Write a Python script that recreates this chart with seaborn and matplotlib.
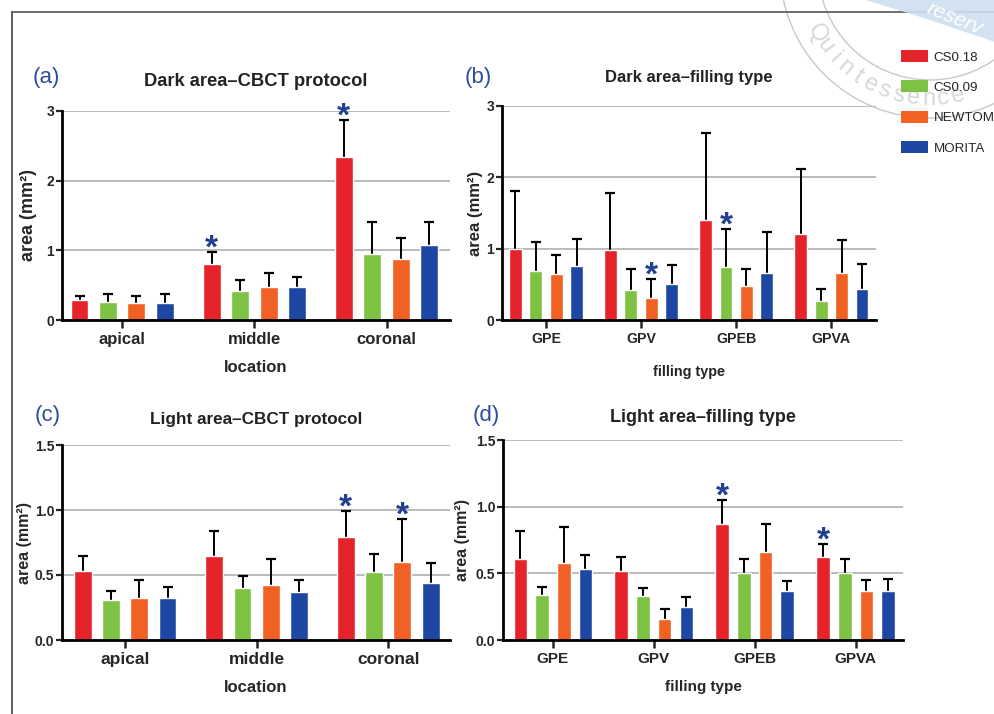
import matplotlib
matplotlib.use("Agg")
import numpy as np
import matplotlib.pyplot as plt
import seaborn as sns
import pandas as pd
from matplotlib.patches import Patch, Ellipse, Polygon
from matplotlib.lines import Line2D

# ---------------- data ----------------
series = ["CS0.18", "CS0.09", "NEWTOM", "MORITA"]
series_colors = ["#E4232B", "#7DC243", "#F16124", "#1E47A3"]
locations = ["apical", "middle", "coronal"]
fillings = ["GPE", "GPV", "GPEB", "GPVA"]

# rows = series (CS0.18, CS0.09, NEWTOM, MORITA), cols = categories
dark_loc_mean = [[0.28, 0.80, 2.34], [0.26, 0.42, 0.95], [0.25, 0.48, 0.87], [0.24, 0.48, 1.08]]
dark_loc_sd = [[0.06, 0.18, 0.53], [0.11, 0.15, 0.45], [0.10, 0.20, 0.30], [0.13, 0.14, 0.32]]
dark_loc_stars = [(0, 1), (0, 2)]

dark_fill_mean = [[1.00, 0.98, 1.40, 1.21], [0.69, 0.42, 0.75, 0.27],
                  [0.64, 0.31, 0.48, 0.66], [0.76, 0.50, 0.66, 0.44]]
dark_fill_sd = [[0.81, 0.80, 1.22, 0.91], [0.41, 0.29, 0.52, 0.16],
                [0.27, 0.27, 0.24, 0.46], [0.38, 0.27, 0.57, 0.35]]
dark_fill_stars = [(2, 1), (1, 2)]

light_loc_mean = [[0.53, 0.65, 0.79], [0.31, 0.40, 0.52], [0.32, 0.42, 0.60], [0.32, 0.37, 0.44]]
light_loc_sd = [[0.115, 0.19, 0.20], [0.07, 0.09, 0.14], [0.145, 0.20, 0.33], [0.09, 0.09, 0.15]]
light_loc_stars = [(0, 2), (2, 2)]

light_fill_mean = [[0.61, 0.52, 0.87, 0.62], [0.34, 0.33, 0.50, 0.50],
                   [0.58, 0.16, 0.66, 0.37], [0.53, 0.25, 0.37, 0.37]]
light_fill_sd = [[0.21, 0.10, 0.18, 0.10], [0.06, 0.06, 0.11, 0.11],
                 [0.27, 0.07, 0.21, 0.08], [0.11, 0.07, 0.07, 0.09]]
light_fill_stars = [(0, 2), (0, 3)]

watermark_text = "Quintessence"
band_text = "reserv"

# ---------------- style ----------------
sns.set_style("white")
plt.rcParams["font.family"] = ["Liberation Sans", "DejaVu Sans"]
STAR_C = "#22408F"
LETTER_C = "#2E4E9C"

W, H = 995, 714
fig = plt.figure(figsize=(W / 100, H / 100), dpi=100)


def fx(x):
    return x / W


def fy(y):
    return 1 - y / H


def px_axes(l, r, top, bottom):
    return fig.add_axes([l / W, 1 - bottom / H, (r - l) / W, (bottom - top) / H])


def panel(ax, cats, cat_name, means, sds, stars, ymax, yticks, yfmt, title, xlabel,
          xlim, tick_fs, xlab_fs, ylab_fs, ylab_x, xlab_off, title_pad, title_fs):
    rows = []
    for si, s in enumerate(series):
        for ci, c in enumerate(cats):
            rows.append({cat_name: c, "scanner": s, "area": means[si][ci]})
    df = pd.DataFrame(rows)
    sns.barplot(data=df, x=cat_name, y="area", hue="scanner", order=cats,
                hue_order=series, palette=dict(zip(series, series_colors)),
                width=0.86, gap=0.37, saturation=1, errorbar=None, legend=False,
                ax=ax, zorder=3)
    bar_conts = list(ax.containers)
    for si, cont in enumerate(bar_conts):
        for ci, bar in enumerate(cont):
            x = bar.get_x() + bar.get_width() / 2
            y = bar.get_height()
            top = y + sds[si][ci]
            ax.vlines(x, y, top, color="black", lw=1.4, zorder=2)
            ax.plot([x], [top], marker="_", ms=7, mew=1.6, color="black", zorder=2)
    for si, ci in stars:
        bar = bar_conts[si][ci]
        x = bar.get_x() + bar.get_width() / 2
        top = means[si][ci] + sds[si][ci]
        ax.annotate("*", xy=(x, top), xytext=(0, -4), textcoords="offset points",
                    ha="center", va="baseline", fontsize=24, fontweight="bold",
                    color=STAR_C, annotation_clip=False, zorder=5)
    ax.set_ylim(0, ymax)
    ax.set_xlim(*xlim)
    ax.set_yticks(yticks)
    ax.set_yticklabels([yfmt.format(t) for t in yticks], fontsize=10, fontweight="bold")
    ax.set_xticks(range(len(cats)))
    ax.set_xticklabels(cats, fontsize=tick_fs, fontweight="bold")
    ax.yaxis.grid(True, color="#a8a8a8", lw=1.1, zorder=0)
    ax.xaxis.grid(False)
    ax.set_axisbelow(True)
    for sp in ["top", "right"]:
        ax.spines[sp].set_visible(False)
    for sp in ["left", "bottom"]:
        ax.spines[sp].set_linewidth(2.0)
        ax.spines[sp].set_color("black")
        ax.spines[sp].set_zorder(4)
    ax.tick_params(axis="x", direction="out", length=5.5, width=1.8, pad=3, bottom=True)
    ax.tick_params(axis="y", direction="out", length=4.5, width=1.6, pad=1, left=True)
    ax.set_ylabel("area (mm²)", fontsize=ylab_fs, fontweight="bold")
    ax.yaxis.set_label_coords(ylab_x, 0.5)
    ax.set_xlabel(xlabel, fontsize=xlab_fs, fontweight="bold", va="center")
    ax.xaxis.set_label_coords(0.5, xlab_off)
    ax.set_title(title, fontsize=title_fs, fontweight="bold", pad=title_pad, color="#222222")


ax_a = px_axes(62, 450, 111, 320)
panel(ax_a, locations, "location", dark_loc_mean, dark_loc_sd, dark_loc_stars, 3, [0, 1, 2, 3],
      "{:g}", "Dark area\u2013CBCT protocol", "location", (-0.455, 2.48), 12, 12, 13,
      -0.064, -47 / 209, 18, 13.2)

ax_b = px_axes(502, 876, 106, 320)
panel(ax_b, fillings, "filling", dark_fill_mean, dark_fill_sd, dark_fill_stars, 3, [0, 1, 2, 3],
      "{:g}", "Dark area\u2013filling type", "filling type", (-0.463, 3.47), 10.2, 10.4, 12,
      -0.052, -52 / 214, 17, 12)

ax_c = px_axes(62, 450, 445, 640)
panel(ax_c, locations, "location", light_loc_mean, light_loc_sd, light_loc_stars, 1.5,
      [0, 0.5, 1.0, 1.5], "{:.1f}", "Light area\u2013CBCT protocol", "location",
      (-0.48, 2.47), 12.5, 12, 11.5, -0.078, -48 / 195, 15, 12.3)

ax_d = px_axes(503, 903, 440, 640)
panel(ax_d, fillings, "filling", light_fill_mean, light_fill_sd, light_fill_stars, 1.5,
      [0, 0.5, 1.0, 1.5], "{:.1f}", "Light area\u2013filling type", "filling type",
      (-0.495, 3.47), 11, 11, 11.5, -0.083, -47 / 200, 13, 13)

# panel letters
for txt, x, y in [("(a)", 33, 78), ("(b)", 465, 77), ("(c)", 35, 415), ("(d)", 473, 415)]:
    fig.text(fx(x), fy(y), txt, fontsize=16, color=LETTER_C, va="center", ha="left")

# frame lines
fig.add_artist(Line2D([fx(12), fx(12)], [0, fy(12)], color="#444444", lw=1.2))
fig.add_artist(Line2D([fx(12), 1], [fy(12), fy(12)], color="#555555", lw=1.2))

# watermark stamp (decoration of the source image)
cx, cy = 930, -32
for r in (112, 150):
    fig.add_artist(Ellipse((fx(cx), fy(cy)), 2 * r / W, 2 * r / H, fill=False,
                           edgecolor="#c8c8c8", lw=1.0))
for i, ch in enumerate(watermark_text):
    th = np.deg2rad(150 - 6.6 * i)
    x = cx + 131 * np.cos(th)
    y = cy + 131 * np.sin(th)
    fig.text(fx(x), fy(y), ch, fontsize=17, color="#d8d8d8", ha="center", va="center",
             rotation=90 - np.rad2deg(th), rotation_mode="anchor")
band = Polygon([(fx(866), 1), (1, 1), (1, fy(42)), (fx(930), fy(20))], closed=True,
               facecolor="#cfdff0", edgecolor="none", alpha=0.9, zorder=10)
fig.add_artist(band)
fig.text(fx(928), fy(8), band_text, fontsize=15, color="white", ha="left", va="center",
         rotation=-22, rotation_mode="anchor", zorder=11, style="italic")

# legend
handles = [Patch(facecolor=c, edgecolor="none") for c in series_colors]
leg = fig.legend(handles, series, loc="upper left", bbox_to_anchor=(fx(901), fy(50)),
                 frameon=False, fontsize=9.6, handlelength=2.05, handleheight=1.0,
                 labelspacing=1.26, handletextpad=0.4, borderaxespad=0, borderpad=0.0)
leg.set_zorder(12)

fig.savefig("out.png", dpi=100, facecolor="white")
